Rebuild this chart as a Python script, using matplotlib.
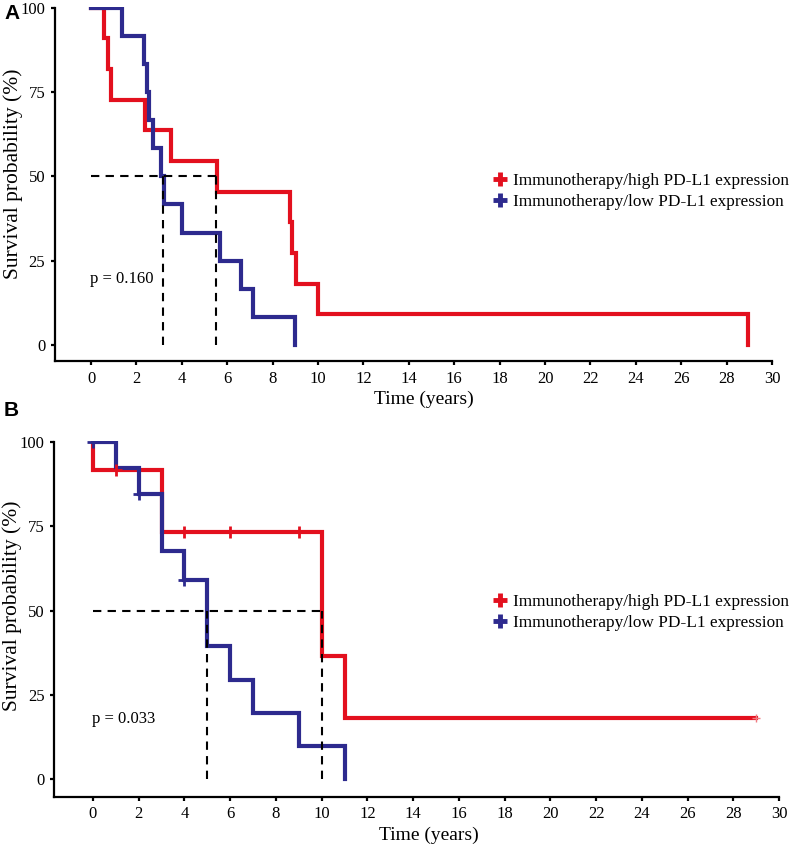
import matplotlib
matplotlib.use("Agg")
import matplotlib.pyplot as plt
from matplotlib.lines import Line2D

plt.rcParams['font.family'] = ['Liberation Serif', 'DejaVu Serif']

RED = '#e3101e'
BLUE = '#2d2a8e'

# ---- Panel A data ----
a_high_t = [0, 0.59, 0.76, 0.87, 2.38, 3.51, 5.54, 8.75, 8.85, 9.04, 10.0, 28.93]
a_high_s = [100, 90.9, 81.8, 72.7, 63.6, 54.5, 45.5, 36.4, 27.3, 18.2, 9.1, 0]
a_low_t = [0, 1.35, 2.34, 2.46, 2.56, 2.75, 3.09, 3.22, 4.0, 5.66, 6.59, 7.12, 9.0]
a_low_s = [100, 91.7, 83.3, 75, 66.7, 58.3, 50, 41.7, 33.3, 25, 16.7, 8.3, 0]
a_medians = [3.16, 5.51]
a_p = "p = 0.160"

# ---- Panel B data ----
b_high_t = [0, 0, 3.0, 10.0, 11.0, 29.0]
b_high_s = [100, 91.7, 73.3, 36.7, 18.3, 18.3]
b_high_cens_t = [1, 4, 6, 9]
b_high_cens_s = [91.7, 73.3, 73.3, 73.3]
b_high_end_t = [29.0]
b_high_end_s = [18.3]
b_low_t = [0, 1, 2, 3, 4, 5, 6, 7, 9, 11]
b_low_s = [100, 92.3, 84.6, 67.7, 59.2, 39.5, 29.6, 19.8, 9.9, 0]
b_low_cens_t = [0, 2, 4]
b_low_cens_s = [100, 84.6, 59.2]
b_medians = [5.0, 10.0]
b_p = "p = 0.033"

labels = ["Immunotherapy/high PD-L1 expression", "Immunotherapy/low PD-L1 expression"]
xticks = list(range(0, 31, 2))
yticks = [0, 25, 50, 75, 100]

fig = plt.figure(figsize=(7.91, 8.48), dpi=100)

axA = fig.add_axes([0.0695, 0.5743, 0.9065, 0.4174])
axB = fig.add_axes([0.0687, 0.0605, 0.9163, 0.4189])


def style(ax, xmin, ymin):
    ax.set_xlim(xmin, 30)
    ax.set_ylim(ymin, 100.2)
    for s in ['top', 'right']:
        ax.spines[s].set_visible(False)
    for s in ['left', 'bottom']:
        ax.spines[s].set_linewidth(1.6)
    ax.spines['left'].set_bounds(ymin, 100)
    ax.set_xticks(xticks)
    ax.set_yticks(yticks)
    ax.tick_params(direction='out', length=3, width=1.6, labelsize=12, pad=4)
    ax.set_xlabel("Time (years)", fontsize=14)
    ax.set_ylabel("Survival probability (%)", fontsize=15.5)


def draw(ax, ht, hs, lt, ls, meds, ptxt, py):
    ax.step(ht, hs, where='post', color=RED, lw=3, solid_joinstyle='miter', zorder=3)
    ax.step(lt, ls, where='post', color=BLUE, lw=3, solid_joinstyle='miter', zorder=4)
    ax.plot([0, max(meds)], [50, 50], ls=(0, (4, 3)), color='black', lw=1.5, zorder=5)
    for m in meds:
        ax.plot([m, m], [0, 50], ls=(0, (4, 3)), color='black', lw=1.5, zorder=5)
    ax.text(-0.05, py, ptxt, fontsize=12, va='center', ha='left')


style(axA, -1.59, -4.75)
draw(axA, a_high_t, a_high_s, a_low_t, a_low_s, a_medians, a_p, 19.7)

style(axB, -1.69, -5.15)
draw(axB, b_high_t, b_high_s, b_low_t, b_low_s, b_medians, b_p, 17.9)
axB.plot(b_high_cens_t, b_high_cens_s, ls='none', marker='+', ms=9, mew=2, color=RED, zorder=4)
axB.plot(b_high_end_t, b_high_end_s, ls='none', marker='+', ms=6, mew=1, color='#f07a80', zorder=4)
axB.plot(b_low_cens_t, b_low_cens_s, ls='none', marker='+', ms=9, mew=2, color=BLUE, zorder=5)

axA.xaxis.set_label_coords(0.515, -0.085)
axB.xaxis.set_label_coords(0.517, -0.085)
axA.yaxis.set_label_coords(-0.045, 0.528)
axB.yaxis.set_label_coords(-0.044, 0.537)

handles = [Line2D([], [], ls='none', marker='+', ms=10, mew=3.5, color=RED),
           Line2D([], [], ls='none', marker='+', ms=10, mew=3.5, color=BLUE)]
for ax, y in ((axA, 0.774), (axB, 0.278)):
    fig.legend(handles, labels, loc='center left', bbox_to_anchor=(0.624, y),
               frameon=False, fontsize=12.4, handlelength=0.8, handletextpad=0.35,
               labelspacing=0.3, borderpad=0, borderaxespad=0)

fig.text(0.006, 0.984, "A", fontsize=15, fontweight='bold', family='Liberation Sans', va='center')
fig.text(0.005, 0.516, "B", fontsize=15, fontweight='bold', family='Liberation Sans', va='center')

fig.savefig("out.png", dpi=100)
